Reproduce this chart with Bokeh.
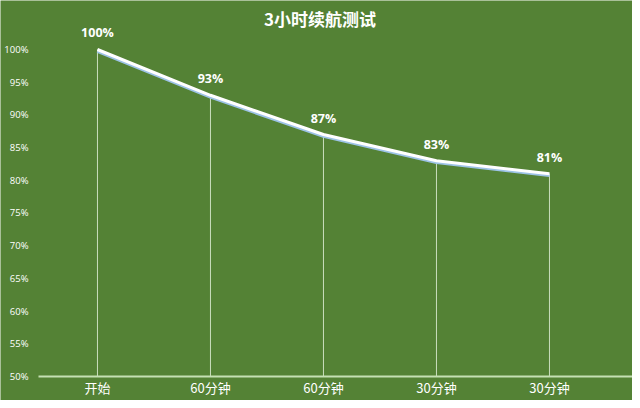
from bokeh.plotting import figure
from bokeh.models import Range1d, ColumnDataSource
from bokeh.core.properties import value
from bokeh.embed import file_html
from bokeh.resources import INLINE

title = "3小时续航测试"
categories = ["开始", "60分钟", "60分钟", "30分钟", "30分钟"]
battery = [100, 93, 87, 83, 81]
y_ticks = [50, 55, 60, 65, 70, 75, 80, 85, 90, 95, 100]
y_tick_labels = [f"{t}%" for t in y_ticks]

BG = "#548235"
xs = list(range(len(categories)))
X0 = -0.858
PX = 1 / 113.0

p = figure(width=632, height=400, output_backend="svg", toolbar_location=None,
           x_range=Range1d(X0, X0 + 632 * PX), y_range=Range1d(46.33, 107.49),
           min_border_left=0, min_border_right=0, min_border_top=0, min_border_bottom=0)
p.background_fill_color = BG
p.border_fill_color = BG
p.outline_line_color = None
p.xgrid.visible = False
p.ygrid.visible = False
p.xaxis.visible = False
p.yaxis.visible = False

src = ColumnDataSource(dict(x=xs, y=battery, y0=[50] * len(xs),
                            ys=[v - 0.25 for v in battery],
                            lab=[f"{v}%" for v in battery]))

# drop lines
p.segment(x0="x", y0="y0", x1="x", y1="y", source=src, line_color="#dfeed6", line_width=1, line_alpha=0.85)
# category axis line
p.segment(x0=[X0 + 38 * PX], y0=[50], x1=[X0 + 632 * PX], y1=[50], line_color="#c5e0b4", line_width=2)
# series line with soft blue shadow
p.line(x="x", y="ys", source=src, line_color="#9dc3e6", line_width=3.5)
p.line(x="x", y="y", source=src, line_color="white", line_width=3)
# data labels
p.text(x="x", y="y", text="lab", source=src, text_color="white", text_font_size="12.5px",
       text_font_style="bold", text_font=value("Open Sans"), text_align="center",
       text_baseline="bottom", y_offset=-8)

# value axis labels
ytick_src = ColumnDataSource(dict(x=[X0 + 28 * PX] * len(y_ticks), y=y_ticks, t=y_tick_labels))
p.text(x="x", y="y", text="t", source=ytick_src, text_color="white", text_font_size="9.5px",
       text_font=value("Open Sans"), text_align="right", text_baseline="middle")

# category labels
cat_src = ColumnDataSource(dict(x=xs, y=[50] * len(xs), t=categories))
p.text(x="x", y="y", text="t", source=cat_src, text_color="white", text_font_size="13px",
       text_font=value("Noto Sans CJK SC"), text_align="center", text_baseline="top", y_offset=2)

# title
p.text(x=[1.97], y=[104.74], text=[title], text_color="white", text_font_size="17px",
       text_font_style="bold", text_font=value("Noto Sans CJK SC"), text_align="center",
       text_baseline="middle")

open("out.html", "w").write(file_html(p, INLINE))
